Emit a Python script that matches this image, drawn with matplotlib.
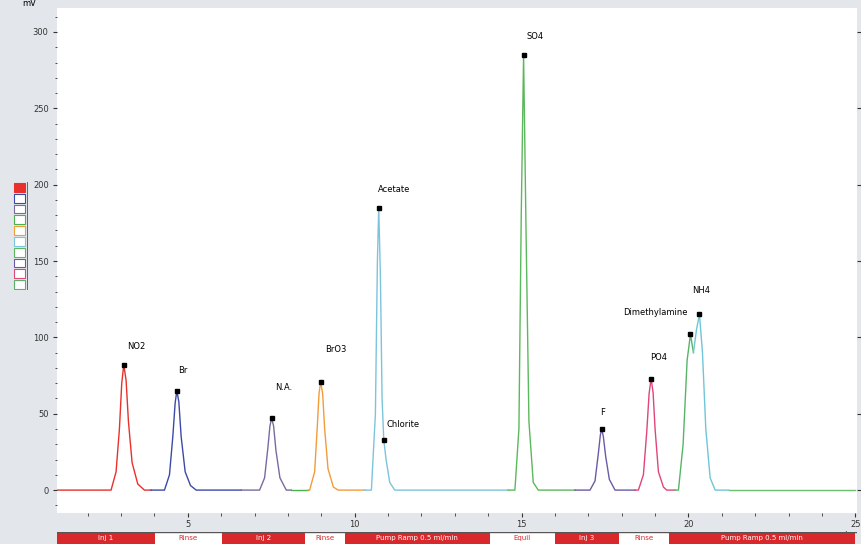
import matplotlib.pyplot as plt
from matplotlib.ticker import MultipleLocator

# trace segments: (colour, times in min, signal in mV)
seg_colors = ["#e8312b", "#3b4aa8", "#7a6a9e", "#4caf50", "#f39c3a", "#7cc4dc",
              "#5cb85c", "#6b5aa6", "#e0457b", "#58b368", "#6fc6d8", "#6cc070"]
seg_times = [
    [1.08, 2.7, 2.85, 2.95, 3.02, 3.08, 3.15, 3.22, 3.33, 3.5, 3.7, 3.9],
    [3.9, 4.3, 4.45, 4.55, 4.62, 4.67, 4.73, 4.8, 4.92, 5.08, 5.25, 6.6],
    [6.6, 7.15, 7.3, 7.4, 7.46, 7.51, 7.57, 7.64, 7.76, 7.95, 8.1],
    [8.1, 8.6],
    [8.6, 8.65, 8.8, 8.88, 8.93, 8.98, 9.04, 9.1, 9.2, 9.36, 9.5, 10.3],
    [10.3, 10.5, 10.62, 10.68, 10.72, 10.77, 10.82, 10.87, 10.94, 11.05, 11.2, 14.6],
    [14.6, 14.8, 14.92, 14.99, 15.06, 15.13, 15.22, 15.35, 15.5, 16.6],
    [16.6, 17.05, 17.2, 17.3, 17.36, 17.4, 17.45, 17.52, 17.63, 17.8, 18.4],
    [18.4, 18.5, 18.65, 18.75, 18.82, 18.88, 18.94, 19.0, 19.1, 19.25, 19.35, 19.6],
    [19.6, 19.7, 19.84, 19.96, 20.06, 20.15],
    [20.15, 20.24, 20.33, 20.42, 20.52, 20.65, 20.8, 21.2],
    [21.2, 25.0],
]
seg_values = [
    [0, 0, 12, 40, 70, 82, 72, 45, 18, 4, 0, 0],
    [0, 0, 10, 35, 57, 65, 58, 35, 12, 3, 0, 0],
    [0, 0, 8, 28, 42, 47, 42, 26, 8, 0, 0],
    [0, 0],
    [0, 0, 12, 42, 63, 71, 63, 40, 14, 2, 0, 0],
    [0, 0, 50, 150, 185, 140, 60, 33, 20, 5, 0, 0],
    [0, 0, 40, 180, 285, 175, 45, 5, 0, 0],
    [0, 0, 6, 24, 36, 40, 35, 22, 7, 0, 0],
    [0, 0, 10, 38, 63, 73, 64, 40, 12, 2, 0, 0],
    [0, 0, 30, 85, 102, 90],
    [90, 105, 115, 90, 40, 8, 0, 0],
    [0, 0],
]

# peak labels
peak_names = ["NO2", "Br", "N.A.", "BrO3", "Acetate", "Chlorite", "SO4",
              "F", "PO4", "Dimethylamine", "NH4"]
peak_rt = [3.08, 4.67, 7.51, 8.98, 10.72, 10.87, 15.06, 17.4, 18.88, 20.06, 20.33]
peak_h = [82, 65, 47, 71, 185, 33, 285, 40, 73, 102, 115]
label_t = [3.17, 4.72, 7.62, 9.12, 10.7, 10.95, 15.15, 17.35, 18.85, 19.98, 20.12]
label_v = [94, 78, 67, 92, 197, 43, 297, 51, 87, 116, 131]

# event bar under the axis
bar_edges = [1.08, 4.01, 6.02, 8.5, 9.7, 14.04, 15.99, 17.93, 19.43, 25.0]
bar_text = ["Inj 1", "Rinse", "Inj 2", "Rinse", "Pump Ramp 0.5 ml/min",
            "Equil", "Inj 3", "Rinse", "Pump Ramp 0.5 ml/min"]
bar_fill = ["#d9282b", "white", "#d9282b", "white", "#d9282b",
            "white", "#d9282b", "white", "#d9282b"]

fig = plt.figure(figsize=(8.62, 5.44), dpi=100, facecolor="#e3e7eb")
ax = fig.add_axes([57 / 862, 31 / 544, 800 / 862, 505 / 544])
ax.set_facecolor("white")
for s in ax.spines.values():
    s.set_visible(False)

for c, t, v in zip(seg_colors, seg_times, seg_values):
    ax.plot(t, v, color=c, lw=1.0)
ax.plot(peak_rt, peak_h, "s", color="black", ms=2.5)

for i, name in enumerate(peak_names):
    ha = "right" if name == "Dimethylamine" else "left"
    ax.text(label_t[i], label_v[i], name, fontsize=6, ha=ha, va="center")

ax.set_xlim(1.08, 25.05)
ax.set_ylim(-15, 315.7)
ax.xaxis.set_major_locator(MultipleLocator(5))
ax.xaxis.set_minor_locator(MultipleLocator(1))
ax.yaxis.set_major_locator(MultipleLocator(50))
ax.yaxis.set_minor_locator(MultipleLocator(10))
ax.tick_params(axis="both", which="both", labelsize=6, colors="#333333")
ax.tick_params(axis="x", which="major", length=3, pad=2)
ax.tick_params(axis="x", which="minor", length=2)
ax.tick_params(axis="y", which="major", length=3, pad=3, right=True)
ax.tick_params(axis="y", which="minor", length=1.5)
ax.text(-0.035, 1.0, "mV", transform=ax.transAxes, fontsize=6, ha="center", va="bottom")
ax.text(0.985, -0.035, "min", transform=ax.transAxes, fontsize=6, ha="center", va="top")

# bottom event bar
bax = fig.add_axes([57 / 862, 0, 800 / 862, 12 / 544])
bax.set_xlim(1.08, 25.05)
bax.set_ylim(0, 1)
bax.axis("off")
for i, txt in enumerate(bar_text):
    x0, x1 = bar_edges[i], bar_edges[i + 1]
    bax.axvspan(x0, x1, color=bar_fill[i], lw=0)
    tc = "white" if bar_fill[i] != "white" else "#d9282b"
    bax.text((x0 + x1) / 2, 0.5, txt, fontsize=5, color=tc, ha="center", va="center")
bax.axhline(1, color="#555555", lw=1)

# colour key on the left
kax = fig.add_axes([12 / 862, 254 / 544, 16 / 862, 108 / 544])
kax.set_xlim(0, 1)
kax.set_ylim(0, 10)
kax.axis("off")
for i, c in enumerate(seg_colors[:10]):
    y = 9 - i
    kax.add_patch(plt.Rectangle((0.1, y + 0.1), 0.7, 0.8, facecolor=c if i == 0 else "white",
                                edgecolor=c, lw=0.8))
kax.plot([0.95, 0.95], [0, 10], color="#3b4aa8", lw=0.6)

fig.savefig("out.png", dpi=100, facecolor=fig.get_facecolor())
